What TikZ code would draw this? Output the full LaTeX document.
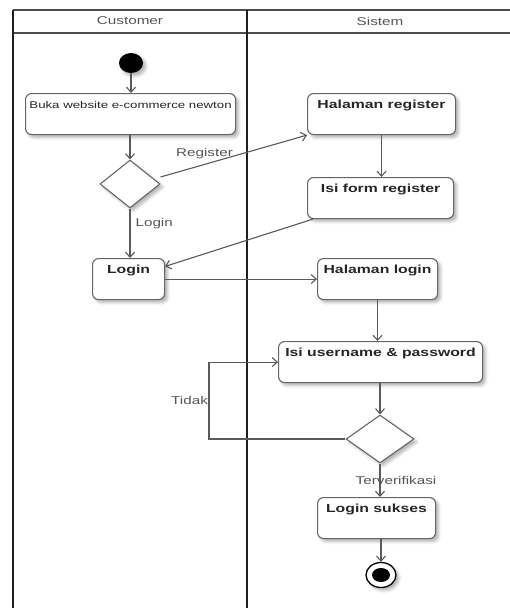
\documentclass[tikz,border=0pt]{standalone}
\usepackage{fontspec}
\setmainfont{Liberation Sans}
\usepackage{graphicx}
\usetikzlibrary{arrows.meta,shapes.geometric,shadows.blur,calc}

\definecolor{edgecol}{HTML}{5A5A5A}
\definecolor{boxline}{HTML}{666666}
\definecolor{boxtext}{HTML}{262626}
\definecolor{labeltext}{HTML}{555555}
\definecolor{lanecol}{HTML}{1E1E1E}

% text in this diagram is set wide
\newcommand{\wtext}[1]{\scalebox{1.35}[1]{#1}}

\tikzset{
  softshadow/.style={blur shadow={shadow xshift=3pt, shadow yshift=-3pt,
      shadow blur radius=3pt, shadow opacity=30}},
  act/.style={draw=boxline, line width=1.1pt, rounded corners=6pt, fill=white,
      inner sep=0pt, text height=15pt, text depth=26pt, minimum width=#1,
      anchor=north west, text=boxtext,
      font=\fontsize{11.7}{14}\selectfont\bfseries, softshadow},
  smallact/.style={act=#1, font=\fontsize{9.8}{12}\selectfont},
  decision/.style={diamond, draw=boxline, line width=1.1pt, fill=white,
      inner sep=0pt, minimum width=#1, minimum height=48pt, softshadow},
  flow/.style={draw=edgecol, line width=1.1pt,
      -{Straight Barb[length=5pt,width=9pt,line width=1.1pt]}},
  guard/.style={text=labeltext, font=\fontsize{11.3}{13}\selectfont, inner sep=1pt},
  lanehead/.style={text=labeltext, font=\fontsize{11.3}{13}\selectfont},
  lane/.style={draw=lanecol, line width=2.6pt},
  laneedge/.style={draw=lanecol!80, line width=1.8pt},
}

\begin{document}
\begin{tikzpicture}[x=1pt, y=-1pt]
  \useasboundingbox (0,0) rectangle (510,608);

  % swimlanes
  \draw[laneedge] (13,10) -- (510,10);
  \draw[laneedge] (13,33) -- (510,33);
  \draw[lane] (13,10) -- (13,608);
  \draw[lane] (247,10) -- (247,608);
  \node[lanehead] (hcust) at (130,21) {\wtext{Customer}};
  \node[lanehead] (hsys) at (380,21) {\wtext{Sistem}};

  % start
  \node[ellipse, fill=black, minimum width=24pt, minimum height=20pt,
        inner sep=0pt, softshadow] (start) at (131,63) {};

  % activities
  \node[smallact=210pt] (buka) at (25,93) {\wtext{Buka website e-commerce newton}};
  \node[act=148pt] (hreg) at (307,93) {\wtext{Halaman register}};
  \node[act=146pt] (ireg) at (307,177) {\wtext{Isi form register}};
  \node[act=72pt] (login) at (92,258) {\wtext{Login}};
  \node[act=120pt] (hlogin) at (317,258) {\wtext{Halaman login}};
  \node[act=204pt] (iuser) at (278,341) {\wtext{Isi username \& password}};
  \node[act=118pt] (sukses) at (317,497) {\wtext{Login sukses}};

  % decisions
  \node[decision=60pt] (d1) at (130,184) {};
  \node[decision=68pt] (d2) at (380,439) {};

  % end
  \node[ellipse, draw=black, line width=1.3pt, fill=white, minimum width=30pt,
        minimum height=25pt, inner sep=0pt, softshadow] (stop) at (381,575) {};
  \node[ellipse, fill=black, minimum width=18pt, minimum height=14pt,
        inner sep=0pt] (stopcore) at (stop) {};

  % flows
  \draw[flow] (start.south) -- (start.south |- buka.north);
  \draw[flow] (d1.north |- buka.south) -- (d1.north);
  \draw[flow] ([yshift=7pt]d1.east) -- (hreg.south west)
     node[guard, pos=0.3, above, yshift=4pt] {\wtext{Register}};
  \draw[flow] (d1.south) -- (d1.south |- login.north)
     node[guard, pos=0.3, right, xshift=4pt] {\wtext{Login}};
  \draw[flow] (hreg.south) -- (hreg.south |- ireg.north);
  \draw[flow] ([xshift=6pt]ireg.south west) --
     ($(login.north east)!0.2!(login.south east)$);
  \draw[flow] (login.east) -- (login.east -| hlogin.west);
  \draw[flow] (hlogin.south) -- (hlogin.south |- iuser.north);
  \draw[flow] (d2.north |- iuser.south) -- (d2.north);
  \draw[flow] (d2.west) -| ([xshift=-69pt]iuser.west)
     node[guard, pos=0.75, left, inner sep=0.5pt] {\wtext{Tidak}} -- (iuser.west);
  \draw[flow] (d2.south) -- (d2.south |- sukses.north)
     node[guard, pos=0.5, xshift=16pt] {\wtext{Terverifikasi}};
  \draw[flow] (stop.north |- sukses.south) -- (stop.north);
\end{tikzpicture}
\end{document}
